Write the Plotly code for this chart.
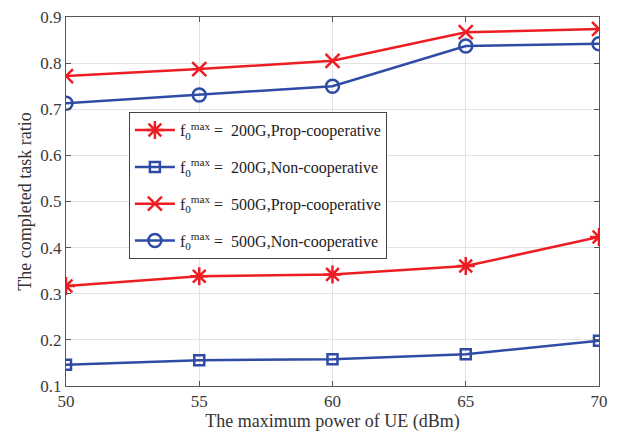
import plotly.graph_objects as go

power = [50, 55, 60, 65, 70]
prop_200 = [0.317, 0.338, 0.342, 0.360, 0.423]
non_200 = [0.146, 0.156, 0.158, 0.169, 0.198]
prop_500 = [0.772, 0.787, 0.805, 0.867, 0.874]
non_500 = [0.713, 0.731, 0.750, 0.837, 0.842]

names = [
    "f<sub>0</sub><sup>max</sup> =  200G,Prop-cooperative",
    "f<sub>0</sub><sup>max</sup> =  200G,Non-cooperative",
    "f<sub>0</sub><sup>max</sup> =  500G,Prop-cooperative",
    "f<sub>0</sub><sup>max</sup> =  500G,Non-cooperative",
]
RED = "#EE1D23"
BLUE = "#2E4BA6"
FONT = "Liberation Serif, Times New Roman, serif"

fig = go.Figure()
series = [
    (prop_200, RED, "asterisk-open", 15),
    (non_200, BLUE, "square-open", 10),
    (prop_500, RED, "x-thin-open", 14),
    (non_500, BLUE, "circle-open", 13),
]
for i, ((vals, col, sym, sz), nm) in enumerate(zip(series, names)):
    fig.add_trace(go.Scatter(
        x=power, y=vals, name=nm, mode="lines+markers", legendgroup=f"g{i}",
        line=dict(color=col, width=2.5),
        marker=dict(symbol=sym, size=sz, color=col, line=dict(color=col, width=2.5)),
    ))

axis_common = dict(
    showline=True, linecolor="#555555", linewidth=1, mirror="ticks",
    ticks="inside", ticklen=5, tickcolor="#555555",
    showgrid=True, gridcolor="#E3E3E3", gridwidth=1, zeroline=False,
    tickfont=dict(family=FONT, size=17, color="#3a3a3a"),
    ticklabeloverflow="allow", automargin=False,
)
fig.update_xaxes(range=[50, 70], dtick=5,
                 title=dict(text="The maximum power of UE (dBm)", standoff=2,
                            font=dict(family=FONT, size=18, color="#333333")),
                 **axis_common)
fig.update_yaxes(range=[0.1, 0.9], dtick=0.1, tickformat=".1f",
                 title=dict(text="The completed task ratio", standoff=4,
                            font=dict(family=FONT, size=18, color="#333333")),
                 **axis_common)

fig.update_layout(
    width=615, height=434,
    margin=dict(l=58, r=24, t=9, b=56, autoexpand=False),
    plot_bgcolor="white", paper_bgcolor="white",
    font=dict(family=FONT),
    legend=dict(x=0.118, y=0.742, xanchor="left", yanchor="top",
                bgcolor="white", bordercolor="#444444", borderwidth=1,
                font=dict(family=FONT, size=16, color="#222222"),
                tracegroupgap=13, itemwidth=40),
    showlegend=True,
)
fig.write_html("out.html")
